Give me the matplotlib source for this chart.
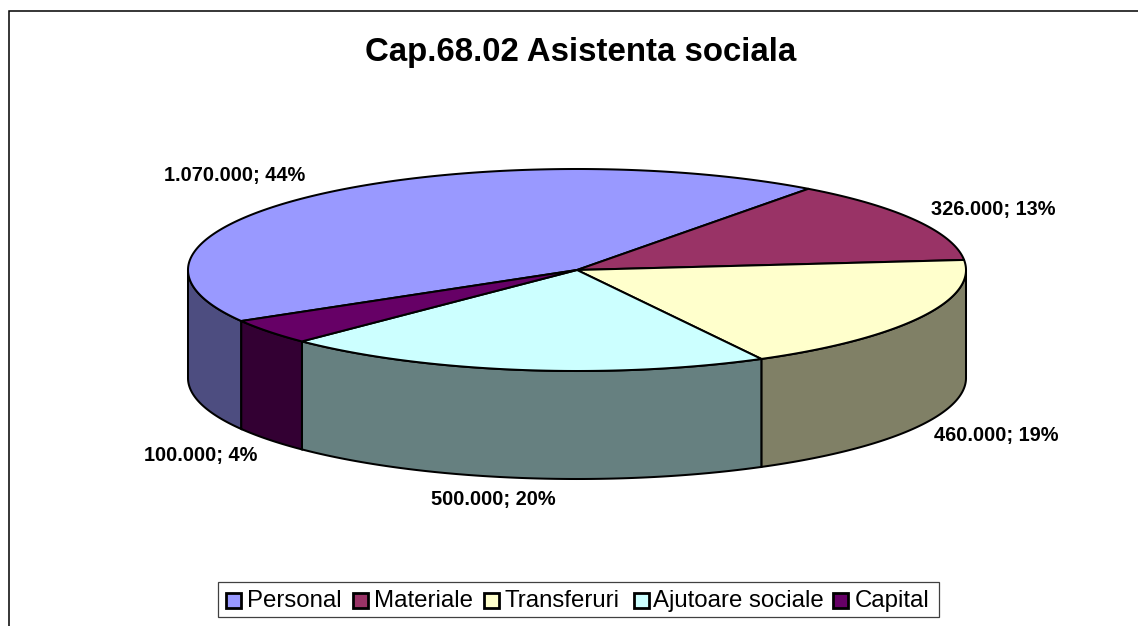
import numpy as np
import matplotlib
matplotlib.use("Agg")
import matplotlib.pyplot as plt
from matplotlib.patches import Polygon, Rectangle

plt.rcParams['font.family'] = ['Liberation Sans', 'DejaVu Sans']

title = "Cap.68.02 Asistenta sociala"
categories = ["Personal", "Materiale", "Transferuri", "Ajutoare sociale", "Capital"]
values = [1070000, 326000, 460000, 500000, 100000]
value_labels = ["1.070.000; 44%", "326.000; 13%", "460.000; 19%", "500.000; 20%", "100.000; 4%"]
top_colors = ["#9999FF", "#993366", "#FFFFCC", "#CCFFFF", "#660066"]
side_colors = ["#4D4D80", "#4D1A33", "#808066", "#668080", "#330033"]
label_pos = [(235, 175), (993, 210), (996, 435), (493, 499), (201, 455)]

W, H = 1138, 626
CX, CY, A, B, D = 577, 270, 389, 101, 108
START = 53.5 + 360 * values[0] / sum(values)  # first slice begins here, runs clockwise

fig = plt.figure(figsize=(W / 100, H / 100), dpi=100)
ax = fig.add_axes([0, 0, 1, 1])
ax.set_xlim(0, W)
ax.set_ylim(H, 0)
ax.axis("off")
LW = 1.45


def rim(t0, t1, n=200):
    t = np.radians(np.linspace(t0, t1, n))
    return CX + A * np.cos(t), CY - B * np.sin(t)


# angles of slice boundaries (clockwise, in ellipse parameter)
sweep = 360 * np.array(values) / sum(values)
edges = START - np.concatenate([[0], np.cumsum(sweep)])

# side walls: only the front half (sin < 0) is visible
for i in range(len(values)):
    t0, t1 = edges[i], edges[i + 1]
    pieces = []
    for k in (0, -360, 360):
        lo, hi = max(t1 + k, -180), min(t0 + k, 0)
        if hi > lo:
            pieces.append((hi, lo))
    for hi, lo in pieces:
        x, y = rim(hi, lo)
        pts = np.vstack([np.c_[x, y], np.c_[x[::-1], y[::-1] + D]])
        ax.add_patch(Polygon(pts, closed=True, fc=side_colors[i], ec="black", lw=LW, zorder=2))

# top faces
for i in range(len(values)):
    x, y = rim(edges[i], edges[i + 1], 300)
    pts = np.vstack([[CX, CY], np.c_[x, y]])
    ax.add_patch(Polygon(pts, closed=True, fc=top_colors[i], ec="black", lw=LW, zorder=3,
                         joinstyle="round"))

# value labels
for (lx, ly), s in zip(label_pos, value_labels):
    ax.text(lx, ly, s, ha="center", va="center", fontsize=14.4, fontweight="bold", color="black", zorder=5)

ax.text(581, 53, title, ha="center", va="center", fontsize=23.8, fontweight="bold", color="black")

# chart frame (top and left edges are visible)
ax.plot([9, 9, W], [H, 11, 11], color="black", lw=1.1, solid_joinstyle="miter", zorder=1)

# legend
ax.add_patch(Rectangle((218, 582), 721, 35, fc="white", ec="#404040", lw=0.9, zorder=4))
swatch_x = [226, 353, 484, 634, 833]
text_x = [247, 374, 505, 653, 855]
for sx, tx, name, c in zip(swatch_x, text_x, categories, top_colors):
    ax.add_patch(Rectangle((sx, 593), 15, 15, fc=c, ec="black", lw=2.0, zorder=5))
    ax.text(tx, 601, name, ha="left", va="center", fontsize=17.3, color="black", zorder=5)

fig.savefig("out.png", dpi=100, facecolor="white")
